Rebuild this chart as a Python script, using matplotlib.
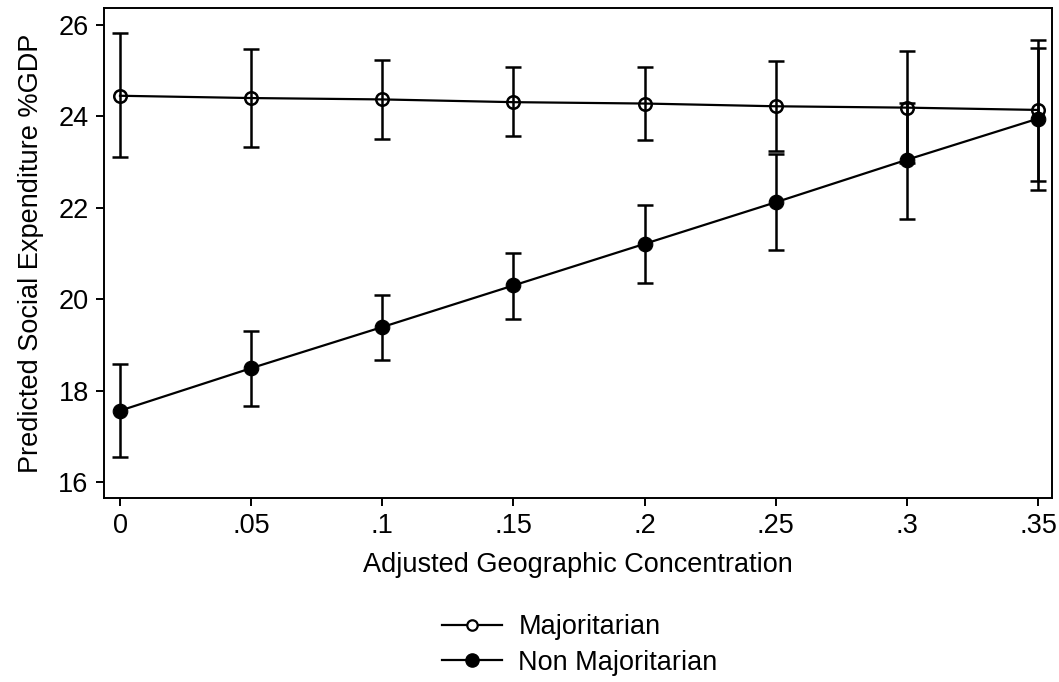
import matplotlib
matplotlib.use("Agg")
import matplotlib.pyplot as plt
from matplotlib.lines import Line2D

plt.rcParams['font.family'] = ['Liberation Sans', 'DejaVu Sans']

x = [0, 0.05, 0.1, 0.15, 0.2, 0.25, 0.3, 0.35]
xticklabels = ['0', '.05', '.1', '.15', '.2', '.25', '.3', '.35']
yticks = [16, 18, 20, 22, 24, 26]

maj = [24.45, 24.40, 24.37, 24.31, 24.28, 24.22, 24.19, 24.14]
maj_lo = [23.10, 23.33, 23.50, 23.56, 23.48, 23.24, 22.97, 22.59]
maj_hi = [25.82, 25.48, 25.23, 25.07, 25.07, 25.20, 25.42, 25.66]

nonmaj = [17.56, 18.49, 19.39, 20.30, 21.21, 22.12, 23.05, 23.95]
nonmaj_lo = [16.54, 17.66, 18.68, 19.57, 20.36, 21.08, 21.75, 22.39]
nonmaj_hi = [18.58, 19.30, 20.10, 21.02, 22.05, 23.17, 24.29, 25.49]

fig = plt.figure(figsize=(10.59, 6.82), dpi=100)
ax = fig.add_axes([104/1059, 1 - 498/682, (1052-104)/1059, (498-8)/682])

lw = 1.6
for y, lo, hi, fc in [(maj, maj_lo, maj_hi, 'white'), (nonmaj, nonmaj_lo, nonmaj_hi, 'black')]:
    yerr = [[a - b for a, b in zip(y, lo)], [c - a for a, c in zip(y, hi)]]
    ax.errorbar(x, y, yerr=yerr, fmt='none', ecolor='black', elinewidth=1.8,
                capsize=6, capthick=1.8, zorder=2)
    if fc == 'white':
        ax.plot(x, y, color='black', lw=lw, marker='o', markersize=9,
                markerfacecolor='none', markeredgecolor='black', markeredgewidth=1.8, zorder=3)
    else:
        ax.plot(x, y, color='black', lw=lw, marker='o', markersize=10.5,
                markerfacecolor='black', markeredgecolor='black', markeredgewidth=0.8, zorder=3)

ax.set_xlim(-0.0061, 0.3553)
ax.set_ylim(15.65, 26.37)
ax.set_xticks(x)
ax.set_xticklabels(xticklabels)
ax.set_yticks(yticks)
for s in ax.spines.values():
    s.set_linewidth(1.4)
ax.tick_params(axis='both', direction='out', length=6, width=1.4, labelsize=19.5, pad=5)
ax.set_xlabel('Adjusted Geographic Concentration', fontsize=19.5, labelpad=9)
ax.set_ylabel('Predicted Social Expenditure %GDP', fontsize=19.5, labelpad=10)

handles = [
    Line2D([], [], color='black', lw=lw, marker='o', markersize=7.5, markerfacecolor='white',
           markeredgecolor='black', markeredgewidth=1.6),
    Line2D([], [], color='black', lw=lw, marker='o', markersize=9.5, markerfacecolor='black',
           markeredgecolor='black'),
]
fig.legend(handles, ['Majoritarian', 'Non Majoritarian'], loc='center',
           bbox_to_anchor=(580/1059, 1 - 645/682), frameon=False, fontsize=19.5,
           handlelength=2.2, handletextpad=0.6, labelspacing=0.35)

fig.savefig('out.png', dpi=100)
